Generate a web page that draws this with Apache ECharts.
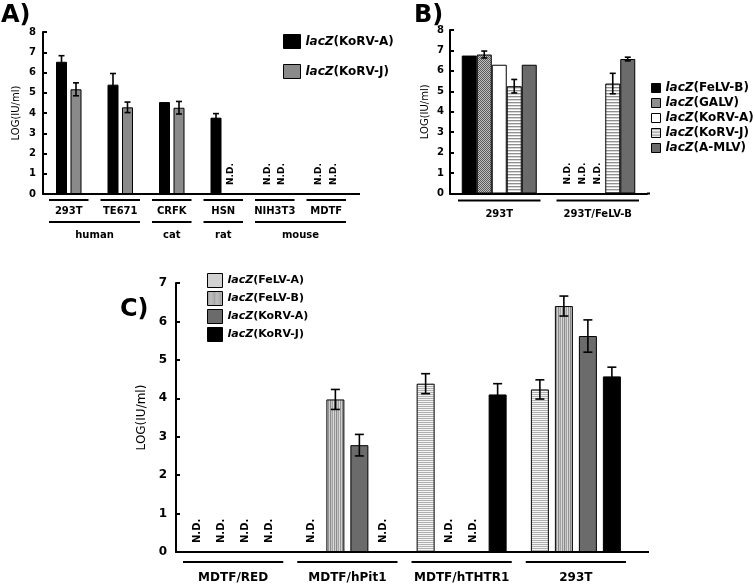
<!DOCTYPE html>
<html><head><meta charset="utf-8">
<script src="https://cdn.jsdelivr.net/npm/echarts@6/dist/echarts.min.js"></script>
<style>html,body{margin:0;padding:0;background:#fff}#c{width:755px;height:586px}</style>
</head><body><div id="c"></div>
<script>
const FONT = 'DejaVu Sans';
// ---------- Panel A ----------
const catsA = ['293T', 'TE671', 'CRFK', 'HSN', 'NIH3T3', 'MDTF'];
const groupsA = [['human', 0, 1], ['cat', 2, 2], ['rat', 3, 3], ['mouse', 4, 5]];
const seriesNamesA = ['KoRV-A', 'KoRV-J'];
const valsA_KoRVA = [6.53, 5.4, 4.54, 3.77, null, null];
const errA_KoRVA  = [0.3, 0.55, 0, 0.2, 0, 0];
const valsA_KoRVJ = [5.17, 4.28, 4.26, null, null, null];
const errA_KoRVJ  = [0.32, 0.26, 0.31, 0, 0, 0];
// ---------- Panel B ----------
const catsB = ['293T', '293T/FeLV-B'];
const seriesNamesB = ['FeLV-B', 'GALV', 'KoRV-A', 'KoRV-J', 'A-MLV'];
const valsB_FeLVB = [6.75, null];
const errB_FeLVB  = [0, 0];
const valsB_GALV  = [6.8, null];
const errB_GALV   = [0.17, 0];
const valsB_KoRVA = [6.3, null];
const errB_KoRVA  = [0, 0];
const valsB_KoRVJ = [5.25, 5.38];
const errB_KoRVJ  = [0.33, 0.5];
const valsB_AMLV  = [6.3, 6.58];
const errB_AMLV   = [0, 0.09];
// ---------- Panel C ----------
const catsC = ['MDTF/RED', 'MDTF/hPit1', 'MDTF/hTHTR1', '293T'];
const seriesNamesC = ['FeLV-A', 'FeLV-B', 'KoRV-A', 'KoRV-J'];
const valsC_FeLVA = [null, null, 4.38, 4.23];
const errC_FeLVA  = [0, 0, 0.26, 0.25];
const valsC_FeLVB = [null, 3.97, null, 6.4];
const errC_FeLVB  = [0, 0.26, 0, 0.26];
const valsC_KoRVA = [null, 2.78, null, 5.62];
const errC_KoRVA  = [0, 0.28, 0, 0.42];
const valsC_KoRVJ = [null, null, 4.1, 4.57];
const errC_KoRVJ  = [0, 0, 0.28, 0.24];

// ---------- patterns ----------
function pattern(w, h, draw) {
  const cv = document.createElement('canvas');
  cv.width = w; cv.height = h;
  const ctx = cv.getContext('2d');
  draw(ctx);
  return { image: cv, repeat: 'repeat' };
}
const patHorizB = pattern(4, 3, c => { c.fillStyle = '#fff'; c.fillRect(0,0,4,3); c.fillStyle = '#909090'; c.fillRect(0,0,4,1); c.fillStyle = '#d8d8d8'; c.fillRect(0,1,4,1); });
const patHorizC = pattern(4, 2, c => { c.fillStyle = '#f4f4f4'; c.fillRect(0,0,4,2); c.fillStyle = '#b0b0b0'; c.fillRect(0,0,4,1); });
const patVertC = pattern(6, 4, c => { const cols = ['#8a8a8a','#c4c4c4','#a2a2a2','#dadada','#959595','#cfcfcf']; cols.forEach((col,i)=>{ c.fillStyle = col; c.fillRect(i,0,1,4); }); });
const patChecker = pattern(2, 2, c => { c.fillStyle = '#c0c0c0'; c.fillRect(0,0,2,2); c.fillStyle = '#5a5a5a'; c.fillRect(0,0,1,1); c.fillRect(1,1,1,1); });

const nd = v => v == null ? '-' : v;

function barSeries(name, xi, vals, color, bw, gap) {
  return {
    type: 'bar', name: name, xAxisIndex: xi, yAxisIndex: xi,
    data: vals.map(nd), barWidth: bw, barGap: gap,
    itemStyle: { color: color, borderColor: '#000', borderWidth: 1 },
    silent: true
  };
}

function overlay(xi, vals, errs, idx, n, bw, gapPx, capW, ndFont, ndGap) {
  return {
    type: 'custom', xAxisIndex: xi, yAxisIndex: xi, z: 5, silent: true, clip: false,
    data: vals.map((v, i) => [i, v == null ? 0 : v, errs[i] || 0, v == null ? 1 : 0]),
    renderItem(params, api) {
      const i = api.value(0), v = api.value(1), e = api.value(2), isNd = api.value(3);
      const total = n * bw + (n - 1) * gapPx;
      const base = api.coord([i, 0]);
      const x = base[0] - total / 2 + idx * (bw + gapPx) + bw / 2;
      if (isNd) {
        return { type: 'text', x: x, y: base[1] - ndGap, rotation: Math.PI / 2,
          style: { text: 'N.D.', font: 'bold ' + ndFont + 'px ' + FONT, align: 'left', verticalAlign: 'middle', fill: '#000' } };
      }
      if (!e) return null;
      const yt = api.coord([i, v + e])[1], yb = api.coord([i, v - e])[1];
      const st = { stroke: '#000', lineWidth: 1.6 };
      return { type: 'group', children: [
        { type: 'line', shape: { x1: x, y1: yt, x2: x, y2: yb }, style: st },
        { type: 'line', shape: { x1: x - capW / 2, y1: yt, x2: x + capW / 2, y2: yt }, style: st },
        { type: 'line', shape: { x1: x - capW / 2, y1: yb, x2: x + capW / 2, y2: yb }, style: st }
      ] };
    }
  };
}

function underlines(xi, count, dy, inset, lw) {
  return {
    type: 'custom', xAxisIndex: xi, yAxisIndex: xi, silent: true, clip: false,
    data: Array.from({ length: count }, (_, i) => [i, 0]),
    renderItem(params, api) {
      const c = api.coord([api.value(0), 0]);
      const w = api.size([1, 0])[0];
      return { type: 'line', shape: { x1: c[0] - w / 2 + inset, y1: c[1] + dy, x2: c[0] + w / 2 - inset, y2: c[1] + dy },
        style: { stroke: '#000', lineWidth: lw } };
    }
  };
}

function groupLines(xi, groups, dy, inset, lw, labelDy, fontSize) {
  return {
    type: 'custom', xAxisIndex: xi, yAxisIndex: xi, silent: true, clip: false,
    data: groups.map(g => [g[1], 0, g[2]]),
    renderItem(params, api) {
      const g = groups[params.dataIndex];
      const c0 = api.coord([g[1], 0]), c1 = api.coord([g[2], 0]);
      const w = api.size([1, 0])[0];
      const x1 = c0[0] - w / 2 + inset, x2 = c1[0] + w / 2 - inset;
      return { type: 'group', children: [
        { type: 'line', shape: { x1: x1, y1: c0[1] + dy, x2: x2, y2: c0[1] + dy }, style: { stroke: '#000', lineWidth: lw } },
        { type: 'text', x: (x1 + x2) / 2, y: c0[1] + labelDy,
          style: { text: g[0], font: 'bold ' + fontSize + 'px ' + FONT, align: 'center', verticalAlign: 'middle', fill: '#000' } }
      ] };
    }
  };
}

function legend(prefix, names, left, top, iw, ih, gap, fs) {
  return {
    orient: 'vertical', left: left, top: top, itemWidth: iw, itemHeight: ih, itemGap: gap,
    icon: 'rect', selectedMode: false, padding: 0, itemStyle: { borderColor: '#000', borderWidth: 1 },
    data: names.map(n => prefix + n),
    formatter: name => '{i|lacZ}{n|(' + name.slice(prefix.length) + ')}',
    textStyle: { rich: {
      i: { fontFamily: FONT, fontStyle: 'italic', fontWeight: 'bold', fontSize: fs, color: '#000' },
      n: { fontFamily: FONT, fontWeight: 'bold', fontSize: fs, color: '#000' }
    } }
  };
}

function yAxis(gi, max, labelSize, nameGap, nameSize, labelMargin) {
  return {
    gridIndex: gi, type: 'value', min: 0, max: max, interval: 1,
    splitLine: { show: false },
    axisLine: { show: true, lineStyle: { color: '#000', width: 2 } },
    axisTick: { show: true, inside: true, length: 4, lineStyle: { color: '#000', width: 2 } },
    axisLabel: { color: '#000', fontFamily: FONT, fontWeight: 'bold', fontSize: labelSize, margin: labelMargin },
    name: 'LOG(IU/ml)', nameLocation: 'middle', nameGap: nameGap,
    nameTextStyle: { color: '#000', fontFamily: FONT, fontSize: nameSize }
  };
}
function xAxis(gi, cats, labelSize, margin) {
  return {
    gridIndex: gi, type: 'category', data: cats,
    axisTick: { show: false },
    axisLine: { lineStyle: { color: '#000', width: 2 } },
    axisLabel: { color: '#000', fontFamily: FONT, fontWeight: 'bold', fontSize: labelSize, margin: margin, interval: 0 }
  };
}

const chart = echarts.init(document.getElementById('c'), null, { renderer: 'canvas' });

const bwA = 11, gapA = 3.5, bwB = 15, gapB = 0, bwC = 18, gapC = 6;
const series = [
  barSeries('A_KoRV-A', 0, valsA_KoRVA, '#000', bwA, (gapA / bwA * 100) + '%'),
  barSeries('A_KoRV-J', 0, valsA_KoRVJ, '#8a8a8a', bwA, (gapA / bwA * 100) + '%'),
  overlay(0, valsA_KoRVA, errA_KoRVA, 0, 2, bwA, gapA, 6, 9, 9),
  overlay(0, valsA_KoRVJ, errA_KoRVJ, 1, 2, bwA, gapA, 6, 9, 9),
  underlines(0, catsA.length, 6, 6, 2),
  groupLines(0, groupsA, 28, 6, 2, 41, 10),

  barSeries('B_FeLV-B', 1, valsB_FeLVB, '#000', bwB, '0%'),
  barSeries('B_GALV', 1, valsB_GALV, patChecker, bwB, '0%'),
  barSeries('B_KoRV-A', 1, valsB_KoRVA, '#fff', bwB, '0%'),
  barSeries('B_KoRV-J', 1, valsB_KoRVJ, patHorizB, bwB, '0%'),
  barSeries('B_A-MLV', 1, valsB_AMLV, '#6b6b6b', bwB, '0%'),
  overlay(1, valsB_FeLVB, errB_FeLVB, 0, 5, bwB, gapB, 6, 9, 9),
  overlay(1, valsB_GALV, errB_GALV, 1, 5, bwB, gapB, 6, 9, 9),
  overlay(1, valsB_KoRVA, errB_KoRVA, 2, 5, bwB, gapB, 6, 9, 9),
  overlay(1, valsB_KoRVJ, errB_KoRVJ, 3, 5, bwB, gapB, 6, 9, 9),
  overlay(1, valsB_AMLV, errB_AMLV, 4, 5, bwB, gapB, 6, 9, 9),
  underlines(1, catsB.length, 7, 8, 2),

  barSeries('C_FeLV-A', 2, valsC_FeLVA, patHorizC, bwC, (gapC / bwC * 100) + '%'),
  barSeries('C_FeLV-B', 2, valsC_FeLVB, patVertC, bwC, (gapC / bwC * 100) + '%'),
  barSeries('C_KoRV-A', 2, valsC_KoRVA, '#6b6b6b', bwC, (gapC / bwC * 100) + '%'),
  barSeries('C_KoRV-J', 2, valsC_KoRVJ, '#000', bwC, (gapC / bwC * 100) + '%'),
  overlay(2, valsC_FeLVA, errC_FeLVA, 0, 4, bwC, gapC, 9, 10, 9),
  overlay(2, valsC_FeLVB, errC_FeLVB, 1, 4, bwC, gapC, 9, 10, 9),
  overlay(2, valsC_KoRVA, errC_KoRVA, 2, 4, bwC, gapC, 9, 10, 9),
  overlay(2, valsC_KoRVJ, errC_KoRVJ, 3, 4, bwC, gapC, 9, 10, 9),
  underlines(2, catsC.length, 10, 7, 2)
];

const titleStyle = { fontFamily: FONT, fontWeight: 'bold', fontSize: 24, color: '#000' };
chart.setOption({
  animation: false,
  backgroundColor: '#fff',
  textStyle: { fontFamily: FONT },
  title: [
    { text: 'A)', left: 1, top: 4, padding: 0, textStyle: titleStyle },
    { text: 'B)', left: 414, top: 4, padding: 0, textStyle: titleStyle },
    { text: 'C)', left: 120, top: 298, padding: 0, textStyle: titleStyle }
  ],
  legend: [
    legend('A_', seriesNamesA, 283, 34, 17, 14, 15, 12),
    legend('B_', seriesNamesB, 651, 82, 9, 9, 3, 12),
    legend('C_', seriesNamesC, 207, 273, 15, 14, 3, 11)
  ],
  grid: [
    { left: 43, top: 32, width: 309, height: 162 },
    { left: 450, top: 30, width: 197, height: 163.5 },
    { left: 176, top: 283, width: 457, height: 269 }
  ],
  xAxis: [ xAxis(0, catsA, 10, 12), xAxis(1, catsB, 10, 16), xAxis(2, catsC, 12, 20) ],
  yAxis: [ yAxis(0, 8, 10, 22, 10, 7), yAxis(1, 8, 10, 20, 10, 6), yAxis(2, 7, 12, 26, 12, 9) ],
  series: series,
  graphic: [
    { type: 'line', shape: { x1: 352, y1: 194, x2: 360, y2: 194 }, style: { stroke: '#000', lineWidth: 2 } },
    { type: 'line', shape: { x1: 647, y1: 193.5, x2: 650, y2: 193.5 }, style: { stroke: '#000', lineWidth: 2 } },
    { type: 'line', shape: { x1: 633, y1: 552, x2: 649, y2: 552 }, style: { stroke: '#000', lineWidth: 2 } }
  ]
});
</script>
</body></html>
